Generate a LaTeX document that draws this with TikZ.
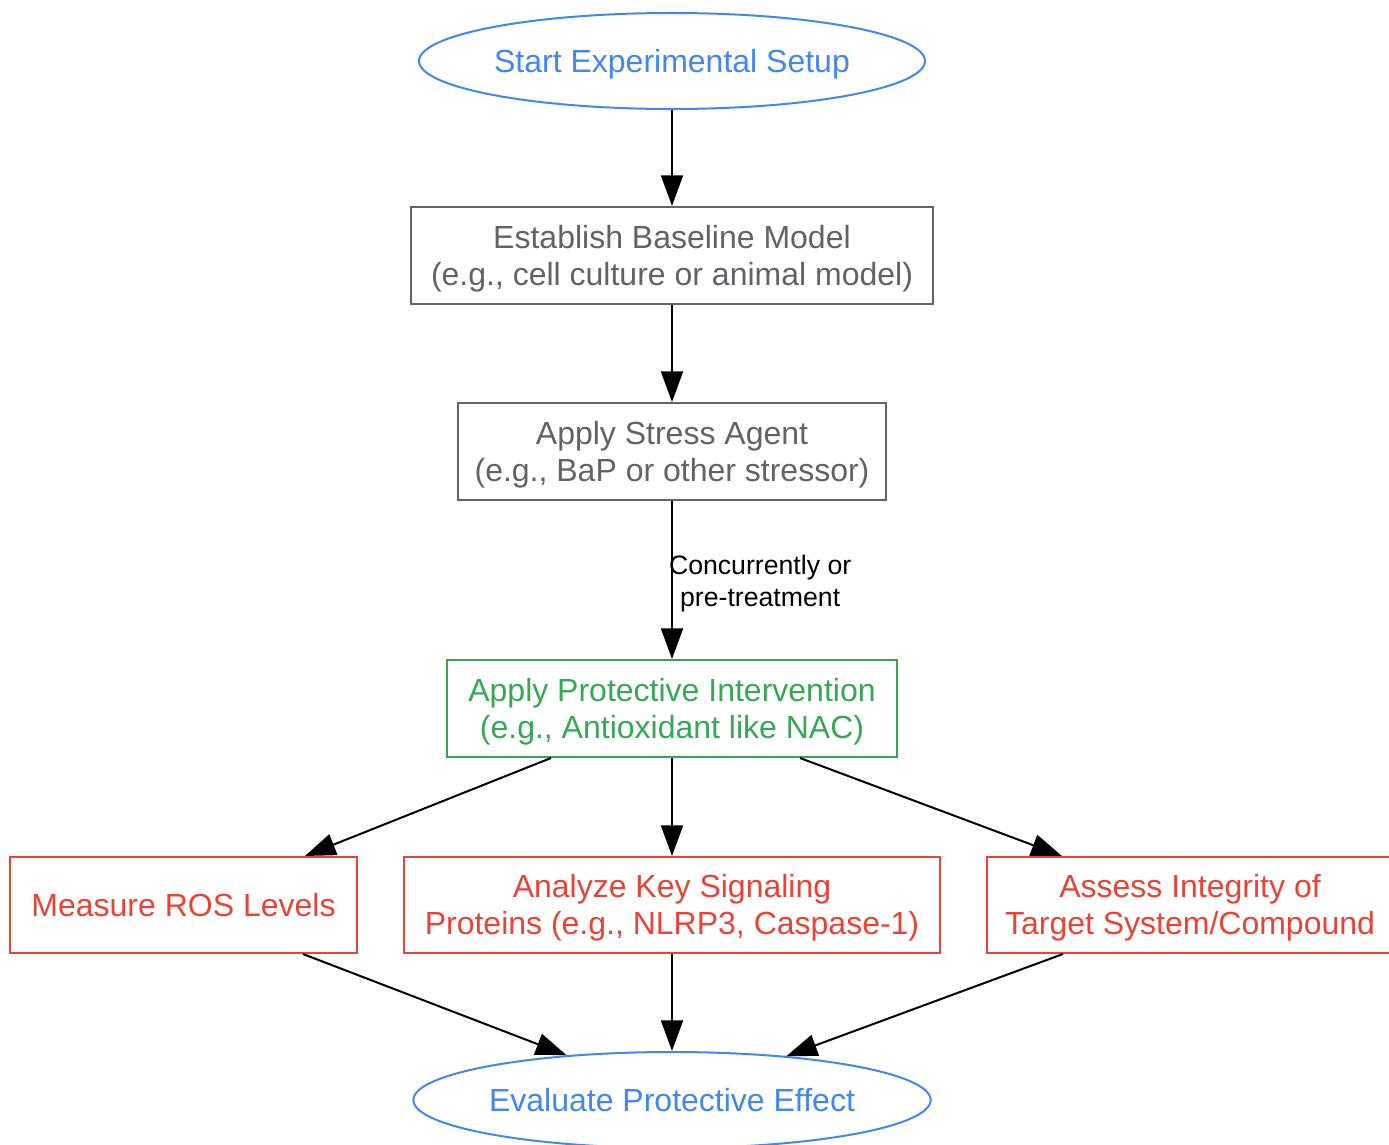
\documentclass[tikz,border=0pt]{standalone}
\usepackage{fontspec}
\setmainfont{Liberation Sans}
\usetikzlibrary{arrows.meta}
\usetikzlibrary{shapes.geometric}
\definecolor{gblue}{HTML}{4285F4}
\definecolor{ggray}{HTML}{5F6368}
\definecolor{ggreen}{HTML}{34A853}
\definecolor{gred}{HTML}{EA4335}

\begin{document}
\begin{tikzpicture}[x=0.75pt,y=-0.75pt,
  base/.style={line width=1.5pt, inner sep=0pt, align=center,
    font=\fontsize{24}{27.75}\selectfont, text height=22pt, text depth=5pt},
  twoline/.style={text height=49.75pt},
  terminal/.style={base, ellipse, draw=gblue, text=gblue, minimum height=72pt},
  stepbox/.style={base, rectangle, draw=#1, text=#1, minimum height=72.75pt},
  flow/.style={line width=1.5pt, -{Triangle[length=23pt,width=16.5pt]}}]

\useasboundingbox (0,0) rectangle (1389,1145);

% Inicio
\node[terminal, minimum width=379.5pt] (start) at (672,61) {Start Experimental Setup};

% Etapas
\node[stepbox=ggray, twoline, minimum width=391.5pt] (base) at (672,255.5)
  {Establish Baseline Model\\(e.g., cell culture or animal model)};
\node[stepbox=ggray, twoline, minimum width=321pt] (stress) at (672,451.5)
  {Apply Stress Agent\\(e.g., BaP or other stressor)};
\node[stepbox=ggreen, twoline, minimum width=337.5pt] (prot) at (672,708.5)
  {Apply Protective Intervention\\(e.g., Antioxidant like NAC)};

% Medidas
\node[stepbox=gred, minimum width=260.25pt, minimum height=72pt] (ros) at (183.5,905)
  {Measure ROS Levels};
\node[stepbox=gred, twoline, minimum width=402pt, minimum height=72pt] (prots) at (672,905)
  {Analyze Key Signaling\\Proteins (e.g., NLRP3, Caspase-1)};
\node[stepbox=gred, twoline, minimum width=304.5pt, minimum height=72pt] (integ) at (1190,905)
  {Assess Integrity of\\Target System/Compound};

% Fim
\node[terminal, minimum width=387pt] (eval) at (672,1100) {Evaluate Protective Effect};

% Setas
\draw[flow] (start) -- (base);
\draw[flow] (base) -- (stress);
\draw[flow] (stress) -- (prot)
  node[midway, right, xshift=-3pt, yshift=-3pt, align=center, inner sep=0pt,
    font=\fontsize{20}{24}\selectfont] (when) {Concurrently or\\pre-treatment};
\draw[flow] ([xshift=-90.75pt]prot.south) -- ([xshift=91.1pt]ros.north);
\draw[flow] (prot) -- (prots);
\draw[flow] ([xshift=96pt]prot.south) -- ([xshift=-96pt]integ.north);
\draw[flow] ([xshift=89.6pt]ros.south) -- (eval.157);
\draw[flow] (prots) -- (eval);
\draw[flow] ([xshift=-95.25pt]integ.south) -- (eval.21);

\end{tikzpicture}
\end{document}
